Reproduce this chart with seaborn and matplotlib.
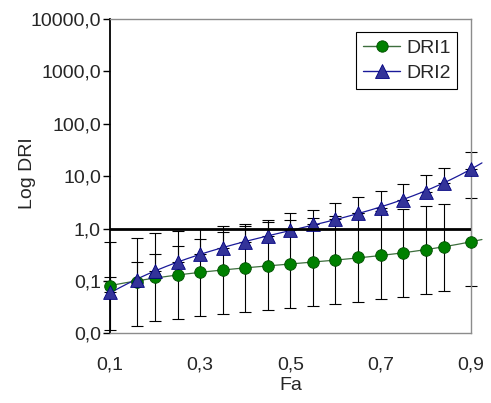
import numpy as np
import pandas as pd
import matplotlib
matplotlib.use("Agg")
import matplotlib.pyplot as plt
from matplotlib.lines import Line2D
import seaborn as sns

# ---- data ----
fa = [0.10, 0.16, 0.20, 0.25, 0.30, 0.35, 0.40, 0.45, 0.50, 0.55,
      0.60, 0.65, 0.70, 0.75, 0.80, 0.84, 0.90]
dri1 = [0.081, 0.097, 0.120, 0.130, 0.146, 0.161, 0.174, 0.192, 0.207, 0.232,
        0.250, 0.282, 0.312, 0.336, 0.389, 0.450, 0.560]
dri1_low = [0.0117, 0.0140, 0.0174, 0.0188, 0.0212, 0.0233, 0.0252, 0.0278, 0.0300, 0.0336,
            0.0362, 0.0390, 0.0445, 0.0500, 0.0555, 0.0640, 0.0810]
dri1_high = [0.56, 0.67, 0.83, 0.90, 1.00, 1.12, 1.20, 1.33, 1.43, 1.60,
             1.73, 1.97, 2.20, 2.32, 2.69, 2.94, 3.87]
dri2 = [0.0605, 0.104, 0.157, 0.232, 0.321, 0.419, 0.560, 0.720, 0.940, 1.20,
        1.50, 2.00, 2.50, 3.50, 5.00, 7.50, 13.9]
dri2_high = [0.12, 0.23, 0.33, 0.47, 0.63, 0.87, 1.13, 1.45, 1.95, 2.30,
             3.10, 3.94, 5.30, 7.20, 10.4, 14.5, 28.5]
ref_level = 1.0
y_ticks = [0.01, 0.1, 1, 10, 100, 1000, 10000]
y_tick_labels = ["0,0", "0,1", "1,0", "10,0", "100,0", "1000,0", "10000,0"]
x_ticks = [0.1, 0.3, 0.5, 0.7, 0.9]
x_tick_labels = ["0,1", "0,3", "0,5", "0,7", "0,9"]
trend_end = 0.925

sns.set_style("white")
plt.rcParams["font.family"] = ["Liberation Sans", "DejaVu Sans"]

FS = 14
fig = plt.figure(figsize=(4.91, 4.03), dpi=100)
ax = fig.add_axes([110 / 491, 1 - 333.3 / 403, 360.7 / 491, 314.3 / 403])

df = pd.DataFrame({"Fa": fa, "DRI1": dri1, "DRI2": dri2})

green_fill, green_edge, green_line = "#008000", "#004d00", "#3d6e3d"
blue_fill, blue_edge, blue_line = "#333399", "#000080", "#1a1a99"

# error bars
x = np.array(fa)
y1 = np.array(dri1)
y2 = np.array(dri2)
eb1 = ax.errorbar(x, y1, yerr=[y1 - np.array(dri1_low), np.array(dri1_high) - y1],
                  fmt="none", ecolor="black", elinewidth=0.8, capsize=4, capthick=0.8, zorder=2)
eb2 = ax.errorbar(x, y2, yerr=[np.zeros_like(y2), np.array(dri2_high) - y2],
                  fmt="none", ecolor="black", elinewidth=0.8, capsize=4, capthick=0.8, zorder=2)
for eb in (eb1, eb2):
    for art in eb.get_children():
        art.set_clip_on(False)

# trend lines (polynomial fit in log space, forecast slightly forward)
xf = np.linspace(fa[0], trend_end, 200)
for yv, col in [(y1, green_line), (y2, blue_line)]:
    coef = np.polyfit(x, np.log10(yv), 3)
    tdf = pd.DataFrame({"Fa": xf, "v": 10 ** np.polyval(coef, xf)})
    sns.lineplot(data=tdf, x="Fa", y="v", ax=ax, color=col, lw=0.9, zorder=3,
                 clip_on=False, legend=False)

# markers
sns.scatterplot(data=df, x="Fa", y="DRI1", ax=ax, marker="o", s=70, color=green_fill,
                edgecolor=green_edge, linewidth=0.6, zorder=4, clip_on=False, legend=False)
sns.scatterplot(data=df, x="Fa", y="DRI2", ax=ax, marker="^", s=98, color=blue_fill,
                edgecolor=blue_edge, linewidth=0.6, zorder=5, clip_on=False, legend=False)

# reference line at 1
ax.axhline(ref_level, color="black", lw=2, zorder=6)

ax.set_yscale("log")
ax.set_ylim(y_ticks[0], y_ticks[-1])
ax.set_xlim(fa[0], fa[-1])
ax.set_yticks(y_ticks)
ax.set_yticklabels(y_tick_labels)
ax.yaxis.set_minor_locator(matplotlib.ticker.NullLocator())
ax.set_xticks(x_ticks)
ax.set_xticklabels(x_tick_labels)
ax.tick_params(axis="y", which="major", direction="out", length=5, width=1,
               color="black", pad=1.5, labelsize=FS, left=True)
ax.tick_params(axis="x", which="major", length=0, pad=17, labelsize=FS)

for side in ["top", "right", "bottom"]:
    ax.spines[side].set_color("#8c8c8c")
    ax.spines[side].set_linewidth(1)
ax.spines["left"].set_color("black")
ax.spines["left"].set_linewidth(1.3)

ax.set_xlabel("Fa", fontsize=FS, labelpad=2)
ax.set_ylabel("Log DRI", fontsize=FS)
ax.yaxis.set_label_coords(-0.205, 0.51)

handles = [
    Line2D([], [], color=green_line, lw=1, marker="o", markersize=8.2,
           markerfacecolor=green_fill, markeredgecolor=green_edge, markeredgewidth=0.6),
    Line2D([], [], color=blue_line, lw=1, marker="^", markersize=9.5,
           markerfacecolor=blue_fill, markeredgecolor=blue_edge, markeredgewidth=0.6),
]
leg = ax.legend(handles, ["DRI1", "DRI2"], loc="upper right", bbox_to_anchor=(0.963, 0.958),
                borderaxespad=0, fontsize=FS, frameon=True, fancybox=False, shadow=False,
                handlelength=1.9, handletextpad=0.3, borderpad=0.35, labelspacing=0.4)
leg.get_frame().set_edgecolor("black")
leg.get_frame().set_linewidth(0.8)
leg.get_frame().set_facecolor("white")
leg.get_frame().set_alpha(1)

fig.savefig("out.png", dpi=100)
